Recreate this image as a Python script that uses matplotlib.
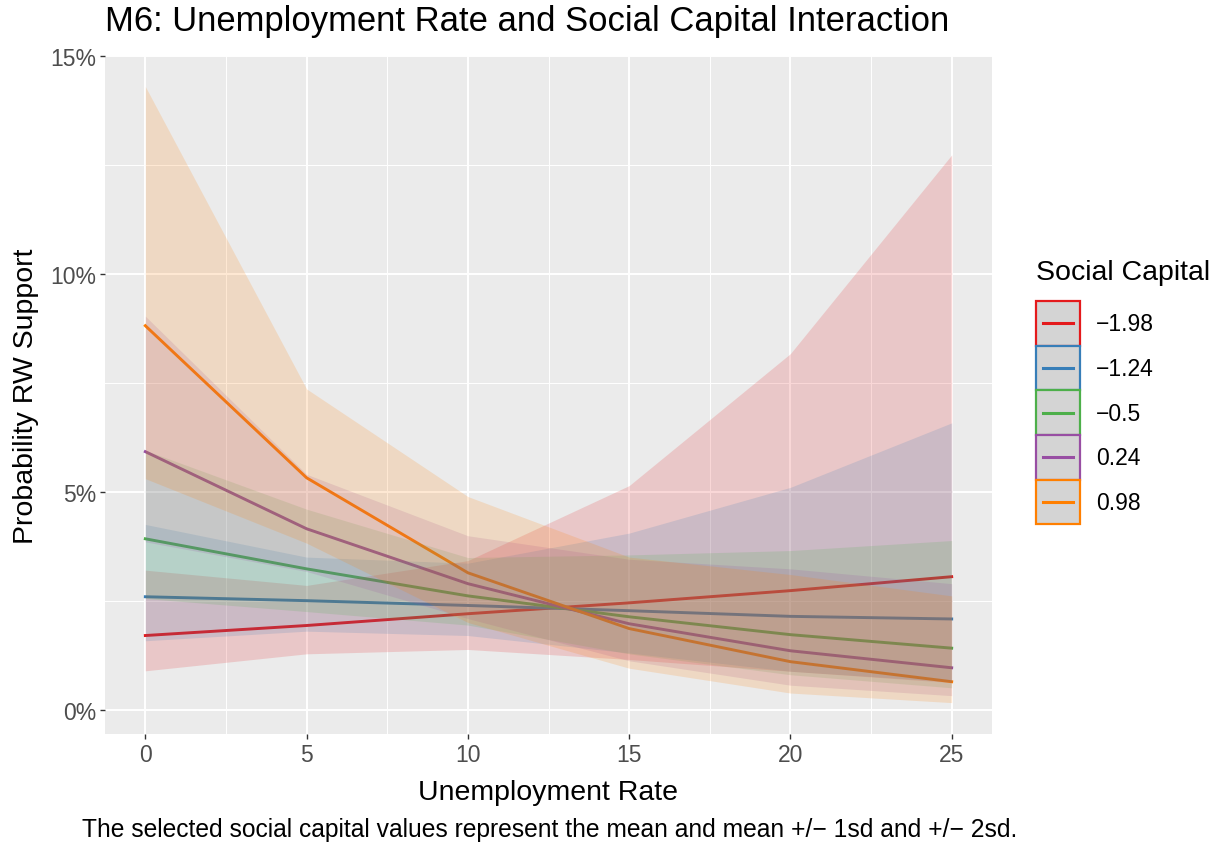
import matplotlib
matplotlib.use("Agg")
import matplotlib.pyplot as plt
from matplotlib.patches import Rectangle
from matplotlib.lines import Line2D
from matplotlib.ticker import MultipleLocator, FuncFormatter

plt.rcParams['font.family'] = ['Liberation Sans', 'DejaVu Sans']

# unemployment rate values used for the predictions
unemp = [0, 5, 10, 15, 20, 25]

# social capital levels (mean, +/- 1sd, +/- 2sd)
sc_labels = ["\u22121.98", "\u22121.24", "\u22120.5", "0.24", "0.98"]
sc_colors = ["#E41A1C", "#377EB8", "#4DAF4A", "#984EA3", "#FF7F00"]

# predicted probability of RW support (%) with lower / upper bounds
fit_m198 = [1.70, 1.93, 2.20, 2.45, 2.73, 3.05]
lo_m198 = [0.89, 1.28, 1.38, 1.15, 0.88, 0.62]
hi_m198 = [3.20, 2.85, 3.42, 5.14, 8.17, 12.73]

fit_m124 = [2.59, 2.50, 2.39, 2.27, 2.14, 2.08]
lo_m124 = [1.58, 1.80, 1.70, 1.30, 0.88, 0.64]
hi_m124 = [4.25, 3.50, 3.36, 4.05, 5.10, 6.58]

fit_m05 = [3.92, 3.23, 2.61, 2.13, 1.72, 1.41]
lo_m05 = [2.55, 2.25, 1.94, 1.28, 0.80, 0.50]
hi_m05 = [5.95, 4.60, 3.49, 3.55, 3.65, 3.88]

fit_p024 = [5.92, 4.15, 2.89, 1.97, 1.35, 0.96]
lo_p024 = [3.85, 3.17, 2.09, 1.12, 0.56, 0.32]
hi_p024 = [9.03, 5.40, 3.99, 3.45, 3.23, 2.89]

fit_p098 = [8.81, 5.32, 3.14, 1.86, 1.10, 0.64]
lo_p098 = [5.30, 3.82, 2.00, 0.95, 0.38, 0.16]
hi_p098 = [14.30, 7.36, 4.89, 3.50, 3.10, 2.61]

fits = [fit_m198, fit_m124, fit_m05, fit_p024, fit_p098]
lows = [lo_m198, lo_m124, lo_m05, lo_p024, lo_p098]
highs = [hi_m198, hi_m124, hi_m05, hi_p024, hi_p098]


class KeyHandler:
    # ggplot-like legend key: grey box, coloured outline, line through the middle
    def legend_artist(self, legend, orig_handle, fontsize, handlebox):
        x0, y0 = handlebox.xdescent, handlebox.ydescent
        w, h = handlebox.width, handlebox.height
        col = orig_handle.get_color()
        rect = Rectangle((-x0, -y0), w, h, facecolor="#D4D4D4", edgecolor=col,
                         lw=1.6, transform=handlebox.get_transform())
        line = Line2D([-x0 + 0.15 * w, -x0 + 0.85 * w], [-y0 + h / 2] * 2,
                      color=col, lw=2.2, transform=handlebox.get_transform())
        handlebox.add_artist(rect)
        handlebox.add_artist(line)
        return rect


fig = plt.figure(figsize=(12.25, 8.45), dpi=100)
ax = fig.add_axes([105 / 1225, 1 - 735 / 845, (992 - 105) / 1225, (735 - 57) / 845])
ax.set_facecolor("#EBEBEB")

# lines first, ribbons on top (like the ggplot layer order)
for fit, col in zip(fits, sc_colors):
    ax.plot(unemp, fit, color=col, lw=2.1, zorder=2)
for lo, hi, col in zip(lows, highs, sc_colors):
    ax.fill_between(unemp, lo, hi, color=col, alpha=0.17, lw=0, zorder=3)

ax.set_xlim(-1.25, 26.25)
ax.set_ylim(-0.56, 15.0)
ax.xaxis.set_major_locator(MultipleLocator(5))
ax.xaxis.set_minor_locator(MultipleLocator(2.5))
ax.yaxis.set_major_locator(MultipleLocator(5))
ax.yaxis.set_minor_locator(MultipleLocator(2.5))
ax.yaxis.set_major_formatter(FuncFormatter(lambda v, p: "%d%%" % v))
ax.grid(which="major", color="white", lw=1.4, zorder=0)
ax.grid(which="minor", color="white", lw=0.7, zorder=0)
ax.set_axisbelow(True)
for s in ax.spines.values():
    s.set_visible(False)
ax.tick_params(which="major", length=3.5, width=1.0, color="#333333",
               labelcolor="#4D4D4D", labelsize=16.5, pad=3)
ax.tick_params(which="minor", length=0)

ax.set_xlabel("Unemployment Rate", fontsize=20.5, labelpad=9)
ax.set_ylabel("Probability RW Support", fontsize=20.5, labelpad=8)
fig.text(105 / 1225, 1 - 22 / 845, "M6: Unemployment Rate and Social Capital Interaction",
         fontsize=24.9, ha="left", va="center")
fig.text(1017 / 1225, 1 - 830 / 845,
         "The selected social capital values represent the mean and mean +/\u2212 1sd and +/\u2212 2sd.",
         fontsize=17.7, ha="right", va="center")

# legend: title as separate text, keys drawn by KeyHandler
fig.text(1036 / 1225, 1 - 273 / 845, "Social Capital", fontsize=20.5, ha="left", va="center")
handles = [Line2D([], [], color=c) for c in sc_colors]
leg = fig.legend(handles, sc_labels, handler_map={Line2D: KeyHandler()},
                 loc="upper left", bbox_to_anchor=(1036 / 1225, 1 - 302 / 845),
                 frameon=False, fontsize=16.5,
                 handlelength=1.92, handleheight=2.62, labelspacing=0.0,
                 handletextpad=0.7, borderpad=0, borderaxespad=0)

fig.savefig("out.png", dpi=100)
